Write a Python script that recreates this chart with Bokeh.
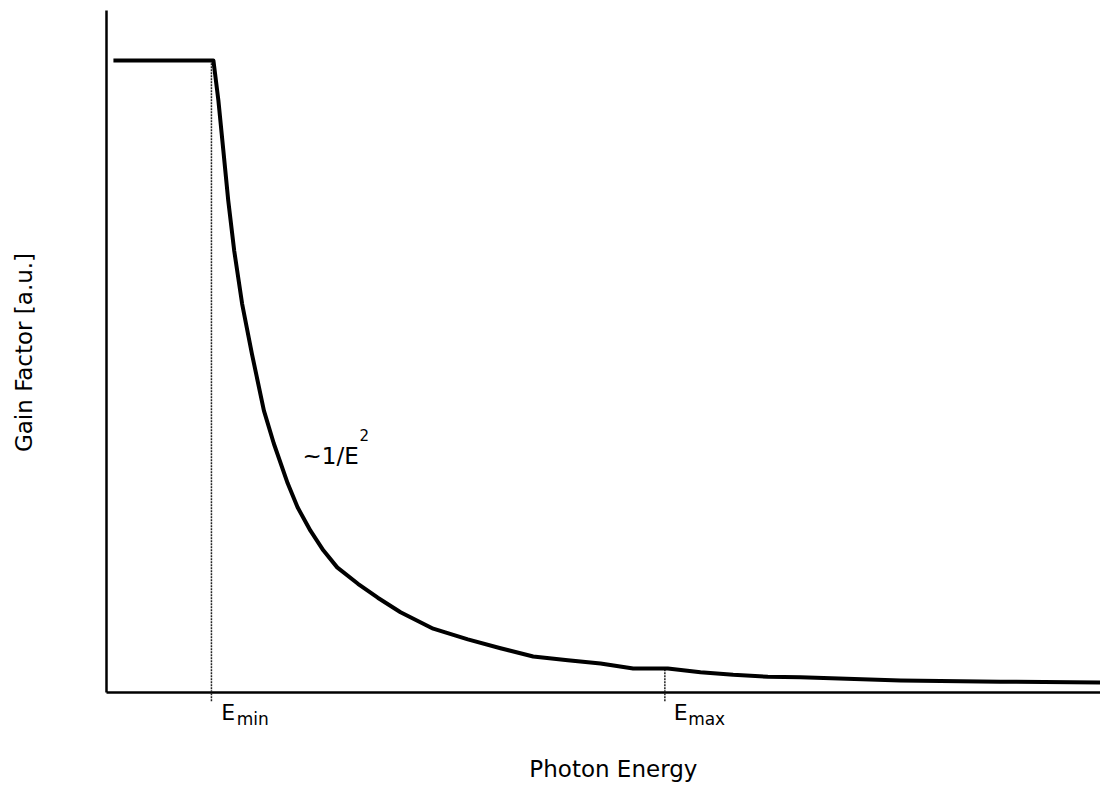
import numpy as np
from bokeh.plotting import figure
from bokeh.models import Range1d, Label
from bokeh.embed import file_html
from bokeh.resources import INLINE

# ---- data (arbitrary units) ----
energy = [0.07, 1.08, 1.13, 1.18, 1.23, 1.29, 1.37, 1.47, 1.59, 1.69, 1.83, 1.93,
          2.06, 2.19, 2.33, 2.54, 2.74, 2.97, 3.30, 3.65, 3.98, 4.31, 4.66, 4.99,
          5.32, 5.67, 6.00, 6.33, 6.68, 7.01, 8.02, 9.03, 10.04]
gain = [1.0, 1.0, 0.937, 0.858, 0.778, 0.699, 0.615, 0.535, 0.446, 0.394, 0.331, 0.293,
        0.256, 0.225, 0.198, 0.172, 0.150, 0.127, 0.101, 0.084, 0.070, 0.057, 0.051, 0.046,
        0.038, 0.038, 0.032, 0.028, 0.025, 0.024, 0.019, 0.017, 0.016]
E_MIN = 1.06
E_MAX = 5.64
x_title = "Photon Energy"
y_title = "Gain Factor [a.u.]"
curve_label = "~1/E"

FONT = "DejaVu Sans"

# the frame covers the whole canvas; axes are drawn as lines at x=0 / y=0
p = figure(width=1100, height=794, output_backend="svg", toolbar_location=None,
           x_range=Range1d(-1.0707, 10.0404), y_range=Range1d(-0.16139, 1.09494),
           min_border_left=0, min_border_right=0, min_border_top=0, min_border_bottom=0)
p.xaxis.visible = False
p.yaxis.visible = False
p.xgrid.visible = False
p.ygrid.visible = False
p.outline_line_color = None
p.background_fill_color = "white"
p.border_fill_color = "white"

# axis lines
y_top = 1.0791
p.segment(x0=[0, 0], y0=[0, 0], x1=[0, p.x_range.end], y1=[y_top, 0],
          line_color="black", line_width=2.5)

# dotted markers
g_min = float(np.interp(E_MIN, energy, gain))
g_max = float(np.interp(E_MAX, energy, gain))
p.segment(x0=[E_MIN, E_MAX], y0=[-0.014, -0.014], x1=[E_MIN, E_MAX], y1=[g_min, g_max],
          line_color="#222222", line_width=1.5, line_dash="2 1")

# curve
p.line(energy, gain, line_color="black", line_width=4, line_join="round")

def lab(x, y, text, size, **kw):
    p.add_layout(Label(x=x, y=y, text=text, text_font=FONT, text_font_size=size,
                       text_color="black", text_baseline="alphabetic", **kw))

DY = 0.0127  # label baseline correction

# E labels
lab(E_MIN + 0.10, -0.0443 + DY, "E", "22px")
lab(E_MIN + 0.255, -0.0554 + DY, "min", "17px")
lab(E_MAX + 0.09, -0.0443 + DY, "E", "22px")
lab(E_MAX + 0.235, -0.0554 + DY, "max", "17px")

# curve annotation
lab(1.98, 0.362 + DY, curve_label, "23px")
lab(2.555, 0.395 + DY, "2", "15px")

# axis titles
lab(5.12, -0.134 + DY, x_title, "23px", text_align="center")
lab(-0.83, 0.538, y_title, "23px", text_align="center", angle=np.pi / 2)

open("out.html", "w").write(file_html(p, INLINE))
